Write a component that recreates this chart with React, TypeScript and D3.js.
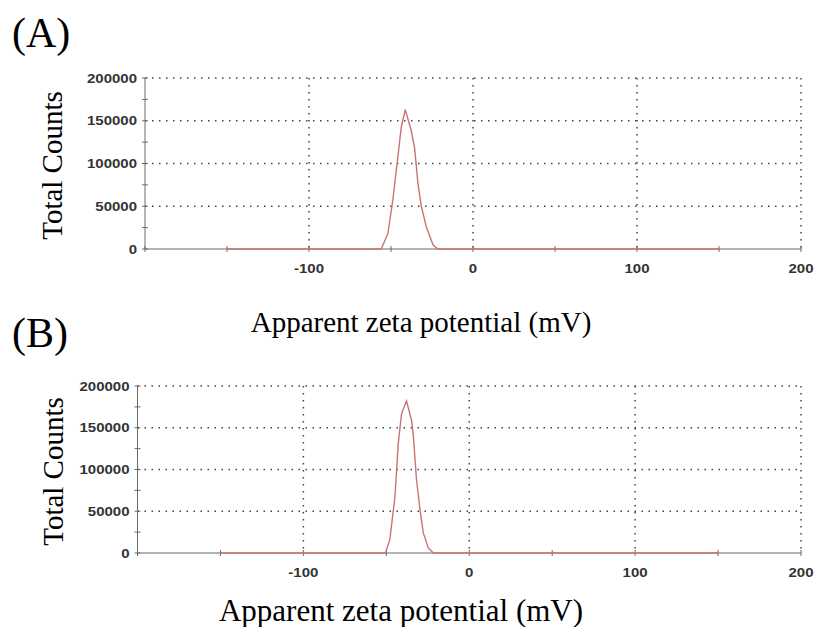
import * as d3 from 'd3';

const X_TICKS = [-100, 0, 100, 200];
const X_MINOR = [-200, -150, -100, -50, 0, 50, 100, 150, 200];
const Y_TICKS = [0, 50000, 100000, 150000, 200000];
const Y_MINOR = [0, 25000, 50000, 75000, 100000, 125000, 150000, 175000, 200000];

// sample A
const potentialA = [-150, -56, -51.9, -48.9, -45.8, -43.7, -41.3, -37.6, -35.6, -33.6, -31.5, -28.5, -24.4, -21.4, 150];
const countsA = [0, 0, 18000, 57000, 108000, 143000, 163000, 138000, 118000, 77000, 50000, 26000, 5000, 0, 0];

// sample B
const potentialB = [-150, -50.5, -47.9, -44.8, -42.8, -40.8, -37.8, -34.8, -33.8, -31.8, -29.7, -27.7, -24.7, -21.6, 150];
const countsB = [0, 0, 16000, 67000, 131000, 167000, 182000, 159000, 143000, 88000, 52000, 24000, 6000, 0, 0];

const SERIF = '"Liberation Serif", "Times New Roman", serif';
const SANS = '"Liberation Sans", Arial, sans-serif';

type PanelProps = {
  label: string;
  xs: number[];
  ys: number[];
  left: number;
  right: number;
  top: number;
  bottom: number;
  labelY: number;
  titleY: number;
  titleX: number;
  titleSize: number;
  yTitleX: number;
  tickLabelY: number;
};

const Panel = (p: PanelProps) => {
  const xScale = d3.scaleLinear().domain([-200, 200]).range([p.left, p.right]);
  const yScale = d3.scaleLinear().domain([0, 200000]).range([p.bottom, p.top]);

  const line = d3
    .line<number>()
    .x((d) => xScale(d))
    .y((_, i) => yScale(p.ys[i]));

  const grid = '#444';

  return (
    <g>
      <text x={12} y={p.labelY} fontFamily={SERIF} fontSize={42}>
        {p.label}
      </text>

      {/* dotted grid */}
      {Y_TICKS.slice(1).map((v) => (
        <line
          key={'h' + v}
          x1={p.left}
          x2={p.right}
          y1={yScale(v)}
          y2={yScale(v)}
          stroke={grid}
          strokeWidth={1.5}
          strokeDasharray="1.5,5.5"
        />
      ))}
      {X_TICKS.map((v) => (
        <line
          key={'v' + v}
          x1={xScale(v)}
          x2={xScale(v)}
          y1={p.top}
          y2={p.bottom}
          stroke={grid}
          strokeWidth={1.5}
          strokeDasharray="1.5,5.5"
        />
      ))}

      {/* axes */}
      <line x1={p.left} x2={p.left} y1={p.top} y2={p.bottom} stroke="#6a6a6a" strokeWidth={1} />
      <line x1={p.left} x2={p.right} y1={p.bottom} y2={p.bottom} stroke="#6a6a6a" strokeWidth={1.2} />
      {Y_MINOR.map((v) => (
        <line key={'ym' + v} x1={p.left - 3} x2={p.left + 3} y1={yScale(v)} y2={yScale(v)} stroke="#6a6a6a" />
      ))}
      {X_MINOR.map((v) => (
        <line key={'xm' + v} x1={xScale(v)} x2={xScale(v)} y1={p.bottom - 3} y2={p.bottom + 3} stroke="#6a6a6a" />
      ))}

      {/* data */}
      <path d={line(p.xs) ?? ''} fill="none" stroke="#c97474" strokeWidth={1.4} />

      {Y_TICKS.map((v) => (
        <text
          key={'yl' + v}
          transform={`translate(${p.left - 8},${yScale(v) + 4.5}) scale(1.2,1)`}
          textAnchor="end"
          fontFamily={SANS}
          fontWeight="bold"
          fontSize={12.5}
          fill="#333"
        >
          {v}
        </text>
      ))}
      {X_TICKS.map((v) => (
        <text
          key={'xl' + v}
          transform={`translate(${xScale(v)},${p.tickLabelY}) scale(1.25,1)`}
          textAnchor="middle"
          fontFamily={SANS}
          fontWeight="bold"
          fontSize={12}
          fill="#333"
        >
          {v}
        </text>
      ))}

      <text
        transform={`translate(${p.yTitleX},${(p.top + p.bottom) / 2 + 2}) rotate(-90)`}
        textAnchor="middle"
        fontFamily={SERIF}
        fontSize={29}
      >
        Total Counts
      </text>
      <text x={p.titleX} y={p.titleY} textAnchor="middle" fontFamily={SERIF} fontSize={p.titleSize}>
        Apparent zeta potential (mV)
      </text>
    </g>
  );
};

export default function App() {
  return (
    <svg width={816} height={627} style={{ position: 'absolute', left: 0, top: 0, background: '#fff' }}>
      <Panel
        label="(A)"
        xs={potentialA}
        ys={countsA}
        left={145}
        right={801}
        top={78}
        bottom={249}
        labelY={47}
        titleX={421}
        titleY={332}
        titleSize={29}
        yTitleX={62}
        tickLabelY={273}
      />
      <Panel
        label="(B)"
        xs={potentialB}
        ys={countsB}
        left={137.5}
        right={801}
        top={386}
        bottom={553}
        labelY={347}
        titleX={401}
        titleY={621}
        titleSize={31}
        yTitleX={63}
        tickLabelY={577}
      />
    </svg>
  );
}
